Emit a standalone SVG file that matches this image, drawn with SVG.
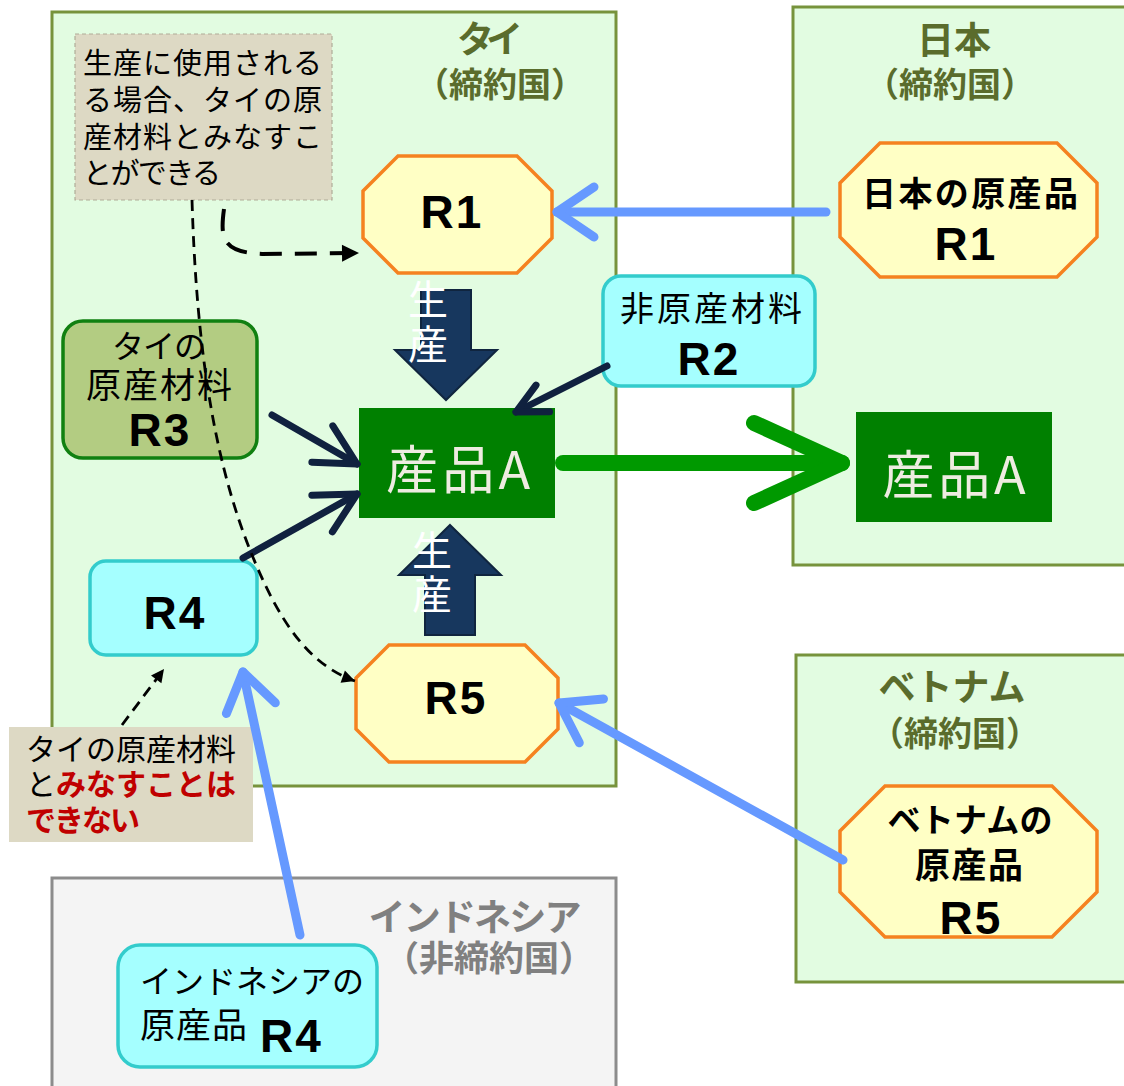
<svg xmlns="http://www.w3.org/2000/svg" width="1124" height="1086" viewBox="0 0 1124 1086">
<style>
.ctr{fill:#E2FCE1;stroke:#77933C;stroke-width:3}
.ctrg{fill:#F4F4F4;stroke:#8C8C8C;stroke-width:3}
.ttl{font-family:"Noto Sans CJK JP",sans-serif;font-weight:bold;fill:#5A6C2C;text-anchor:middle}
.ttlg{font-family:"Noto Sans CJK JP",sans-serif;font-weight:bold;fill:#808080;text-anchor:middle}
.oct{fill:#FFFFC5;stroke:#F58220;stroke-width:3.5}
.cyan{fill:#A5FFFF;stroke:#33CCCC;stroke-width:3.5}
.olv{fill:#B3CC82;stroke:#118011;stroke-width:3.5}
.prod{fill:#008000}
.note{fill:#DDD9C4}
.jp{font-family:"Noto Sans CJK JP",sans-serif;fill:#000}
.r{font-family:"Liberation Sans",Arial,sans-serif;font-weight:bold;font-size:46px;fill:#000;letter-spacing:2px}
.pa{font-family:"Noto Sans CJK JP",sans-serif;font-size:52px;fill:#EEECE1;text-anchor:middle}
.sei{font-family:"Noto Sans CJK JP",sans-serif;font-size:40px;fill:#FFFFFF;text-anchor:middle}
.blk{fill:#17375E;stroke:#10253F;stroke-width:2}
.blue{stroke:#6699FF;stroke-width:9;fill:none;stroke-linecap:round}
.navy{stroke:#10213F;stroke-width:7;fill:none;stroke-linecap:round}
.grn{stroke:#009900;stroke-width:16;fill:none;stroke-linecap:round}
.dsh1{stroke:#000;stroke-width:4;fill:none;stroke-dasharray:22 13}
.dsh2{stroke:#000;stroke-width:2.8;fill:none;stroke-dasharray:11 7}
.red{fill:#C00000;font-weight:bold}
</style>
<defs>
<marker id="mBlue" markerUnits="userSpaceOnUse" viewBox="-50 -35 60 70" markerWidth="60" markerHeight="70" refX="0" refY="0" orient="auto" overflow="visible">
<path d="M-37,-25 L0,0 L-37,25" fill="none" stroke="#6699FF" stroke-width="9" stroke-linecap="round" stroke-linejoin="round"/>
</marker>
<marker id="mNavy" markerUnits="userSpaceOnUse" viewBox="-50 -30 60 60" markerWidth="60" markerHeight="60" refX="0" refY="0" orient="auto" overflow="visible">
<path d="M-40,-21 L0,0 L-40,21" fill="none" stroke="#10213F" stroke-width="7" stroke-linecap="round" stroke-linejoin="round"/>
</marker>
<marker id="mNavyS" markerUnits="userSpaceOnUse" viewBox="-40 -25 50 50" markerWidth="50" markerHeight="50" refX="0" refY="0" orient="auto" overflow="visible">
<path d="M-30,-15 L0,0 L-30,15" fill="none" stroke="#10213F" stroke-width="7" stroke-linecap="round" stroke-linejoin="round"/>
</marker>
<marker id="mGreen" markerUnits="userSpaceOnUse" viewBox="-100 -50 110 100" markerWidth="110" markerHeight="100" refX="0" refY="0" orient="auto" overflow="visible">
<path d="M-88,-40 L0,0 L-88,40" fill="none" stroke="#009900" stroke-width="16" stroke-linecap="round" stroke-linejoin="round"/>
</marker>
<marker id="mTri" markerUnits="userSpaceOnUse" viewBox="-20 -10 22 20" markerWidth="22" markerHeight="20" refX="0" refY="0" orient="auto" overflow="visible">
<path d="M-17,-8.5 L0,0 L-17,8.5 Z" fill="#000"/>
</marker>
<marker id="mTriS" markerUnits="userSpaceOnUse" viewBox="-16 -8 18 16" markerWidth="18" markerHeight="16" refX="0" refY="0" orient="auto" overflow="visible">
<path d="M-13,-6.5 L0,0 L-13,6.5 Z" fill="#000"/>
</marker>
</defs>

<g id="thailand">
<rect class="ctr" x="52" y="12" width="564" height="774"/>
<text class="ttl" x="490" y="53" font-size="37" textLength="66">タイ</text>
<text class="ttl" x="500" y="97" font-size="34">（締約国）</text>
</g>
<g id="japan">
<rect class="ctr" x="793" y="7" width="340" height="558"/>
<text class="ttl" x="954" y="54" font-size="37">日本</text>
<text class="ttl" x="950" y="97" font-size="34">（締約国）</text>
</g>
<g id="vietnam">
<rect class="ctr" x="796" y="655" width="340" height="327"/>
<text class="ttl" x="952" y="701" font-size="37" textLength="147">ベトナム</text>
<text class="ttl" x="955" y="746" font-size="34">（締約国）</text>
</g>
<g id="indonesia">
<rect class="ctrg" x="52" y="878" width="564" height="220"/>
<text class="ttlg" x="475" y="931" font-size="37" textLength="213">インドネシア</text>
<text class="ttlg" x="489" y="971" font-size="35">（非締約国）</text>
</g>

<g id="note1">
<rect class="note" x="75" y="34" width="257" height="166" stroke="#B0AC98" stroke-width="1.2" stroke-dasharray="4 3"/>
<text class="jp" font-size="29" x="83" y="74" textLength="239">生産に使用される</text>
<text class="jp" font-size="29" x="83" y="111" textLength="239">る場合、タイの原</text>
<text class="jp" font-size="29" x="83" y="148" textLength="239">産材料とみなすこ</text>
<text class="jp" font-size="29" x="83" y="184" textLength="138">とができる</text>
</g>

<g id="note2">
<rect class="note" x="9" y="727" width="244" height="115"/>
<text class="jp" font-size="30" x="26" y="760" textLength="210">タイの原産材料</text>
<text class="jp" font-size="30" x="26" y="795" textLength="210">と<tspan class="red">みなすことは</tspan></text>
<text class="jp red" font-size="30" x="26" y="831" textLength="114">できない</text>
</g>

<g id="thR1">
<polygon class="oct" points="398,156 517,156 552,191 552,238 517,273 398,273 363,238 363,191"/>
<text class="r" x="452" y="228" style="text-anchor:middle">R1</text>
</g>
<g id="jpR1">
<polygon class="oct" points="880,143 1057,143 1097,183 1097,237 1057,277 880,277 840,237 840,183"/>
<text class="jp" font-size="34" font-weight="bold" x="970" y="206" text-anchor="middle" textLength="216">日本の原産品</text>
<text class="r" x="966" y="260" style="text-anchor:middle">R1</text>
</g>
<g id="R2">
<rect class="cyan" x="603" y="276" width="212" height="110" rx="18"/>
<text class="jp" font-size="34" x="711" y="321" text-anchor="middle" textLength="182">非原産材料</text>
<text class="r" x="709" y="375" style="text-anchor:middle">R2</text>
</g>
<g id="R3">
<rect class="olv" x="63" y="321" width="194" height="137" rx="20"/>
<text class="jp" font-size="32" x="159" y="358" text-anchor="middle" textLength="94">タイの</text>
<text class="jp" font-size="35" x="159" y="398" text-anchor="middle" textLength="146">原産材料</text>
<text class="r" x="160" y="446" style="text-anchor:middle">R3</text>
</g>
<g id="thR4">
<rect class="cyan" x="90" y="561" width="167" height="94" rx="16"/>
<text class="r" x="175" y="629" style="text-anchor:middle">R4</text>
</g>
<g id="thR5">
<polygon class="oct" points="389,645 525,645 558,678 558,729 525,762 389,762 356,729 356,678"/>
<text class="r" x="456" y="714" style="text-anchor:middle">R5</text>
</g>
<g id="vnR5">
<polygon class="oct" points="885,786 1052,786 1097,831 1097,892 1052,937 885,937 840,892 840,831"/>
<text class="jp" font-size="33" font-weight="bold" x="970" y="832" text-anchor="middle" textLength="165">ベトナムの</text>
<text class="jp" font-size="35" font-weight="bold" x="969" y="878" text-anchor="middle" textLength="108">原産品</text>
<text class="r" x="971" y="934" style="text-anchor:middle">R5</text>
</g>
<g id="idR4">
<rect class="cyan" x="118" y="945" width="259" height="122" rx="22"/>
<text class="jp" font-size="32" x="140" y="993" textLength="224">インドネシアの</text>
<text class="jp" font-size="35" x="140" y="1038" textLength="107">原産品</text>
<text class="r" x="260" y="1052" style="text-anchor:start">R4</text>
</g>
<g id="prodA_th">
<rect class="prod" x="359" y="408" width="196" height="110"/>
<text class="pa" x="458" y="489" textLength="144">産品A</text>
</g>
<g id="prodA_jp">
<rect class="prod" x="856" y="412" width="196" height="110"/>
<text class="pa" x="954" y="494" textLength="143">産品A</text>
</g>
<g id="prodDown">
<path class="blk" d="M421,290 L471,290 L471,350 L497,350 L446,400 L395,350 L421,350 Z"/>
<text class="sei" x="428" y="314">生</text>
<text class="sei" x="428" y="359">産</text>
</g>
<g id="prodUp">
<path class="blk" d="M450,525 L501,575 L475,575 L475,635 L425,635 L425,575 L399,575 Z"/>
<text class="sei" x="432" y="565">生</text>
<text class="sei" x="432" y="609">産</text>
</g>

<g id="connectors">
<line class="blue" x1="826" y1="212" x2="557" y2="212" marker-end="url(#mBlue)"/>
<line class="blue" x1="843" y1="860" x2="559" y2="703" marker-end="url(#mBlue)"/>
<line class="blue" x1="300" y1="935" x2="243" y2="672" marker-end="url(#mBlue)"/>
<line class="navy" x1="272" y1="415" x2="357" y2="464" marker-end="url(#mNavy)"/>
<line class="navy" x1="243" y1="558" x2="357" y2="494" marker-end="url(#mNavy)"/>
<line class="navy" x1="607" y1="366" x2="516" y2="412" marker-end="url(#mNavyS)"/>
<line class="grn" x1="563" y1="463" x2="842" y2="463" marker-end="url(#mGreen)"/>
<path class="dsh1" d="M224,209 C220,238 222,252 262,254 L359,253" marker-end="url(#mTri)"/>
<path class="dsh2" d="M192,200 C196,330 210,450 250,550 C280,625 310,665 355,681" marker-end="url(#mTriS)"/>
<line class="dsh2" x1="122" y1="725" x2="164" y2="669" marker-end="url(#mTriS)"/>
</g>
</svg>
